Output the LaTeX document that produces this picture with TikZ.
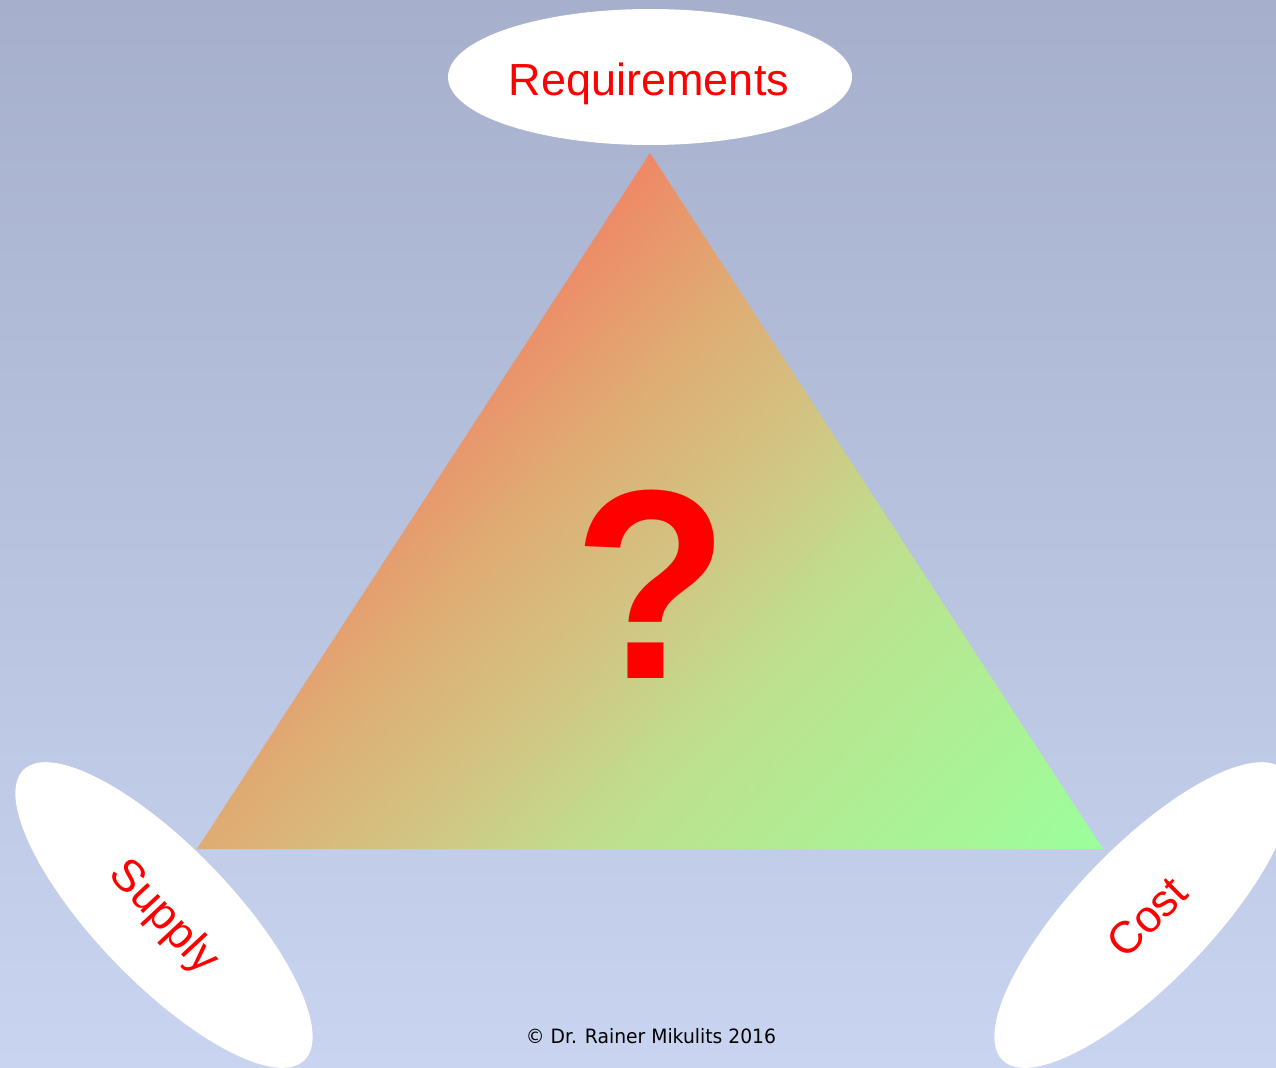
\documentclass[tikz,border=0pt]{standalone}
\usepackage{fontspec}
\setmainfont{Liberation Sans}
\newfontfamily\copyfont[FakeStretch=0.95]{DejaVu Sans}
\usetikzlibrary{shapes.geometric}
\definecolor{bgtop}{RGB}{166,176,204}
\definecolor{bgbot}{RGB}{200,212,240}
\definecolor{g0}{RGB}{239,136,102}
\definecolor{g1}{RGB}{223,172,116}
\definecolor{g2}{RGB}{210,196,130}
\definecolor{g3}{RGB}{190,224,142}
\definecolor{g4}{RGB}{156,255,156}
\definecolor{txtred}{RGB}{255,0,0}
\begin{document}
\begin{tikzpicture}[x=0.75pt,y=-0.75pt,
  oval/.style={ellipse, fill=white, draw=none, minimum width=303pt, minimum height=102pt, inner sep=0pt},
  lbl/.style={text=txtred, font=\fontsize{33.75}{40}\selectfont, inner sep=0pt}]
\useasboundingbox (0,0) rectangle (1276,1067);
\shade[top color=bgtop, bottom color=bgbot] (0,0) rectangle (1276,1067);
% triangle
\coordinate (apex) at (650,153);
\coordinate (bl) at (197,849);
\coordinate (br) at (1103,849);
\begin{scope}
  \clip (apex) -- (bl) -- (br) -- cycle;
  \begin{scope}[transform canvas={shift={(650,153)}, rotate=-43.8}]
    \fill[g0] (-300,-1500) rectangle (0.5,1500);
    \shade[left color=g0, right color=g1] (0,-1500) rectangle (154.5,1500);
    \shade[left color=g1, right color=g2] (154,-1500) rectangle (299.5,1500);
    \shade[left color=g2, right color=g3] (299,-1500) rectangle (445.5,1500);
    \shade[left color=g3, right color=g4] (445,-1500) rectangle (809.5,1500);
    \fill[g4] (809,-1500) rectangle (1200,1500);
  \end{scope}
\end{scope}
% ovals
\node[oval] (reqE) at (650,77) {};
\node[lbl, anchor=base] (req) at (649,95) {Requirements};
\node[oval, rotate=-46] (supE) at (164,915) {};
\node[lbl, rotate=-47] (sup) at (163,918) {Supply};
\node[oval, rotate=46] (costE) at (1143,915) {};
\node[lbl, rotate=45] (cost) at (1147,917) {Cost};
% question mark
\node[text=txtred, font=\bfseries\fontsize{191}{200}\selectfont, anchor=base, inner sep=0pt] (q) at (651,678) {\scalebox{1}[1.06]{?}};
% copyright
\node[font=\copyfont\fontsize{14.8}{18}\selectfont, anchor=base, inner sep=0pt] (copy) at (651,1043) {© Dr. Rainer Mikulits 2016};
\end{tikzpicture}
\end{document}
